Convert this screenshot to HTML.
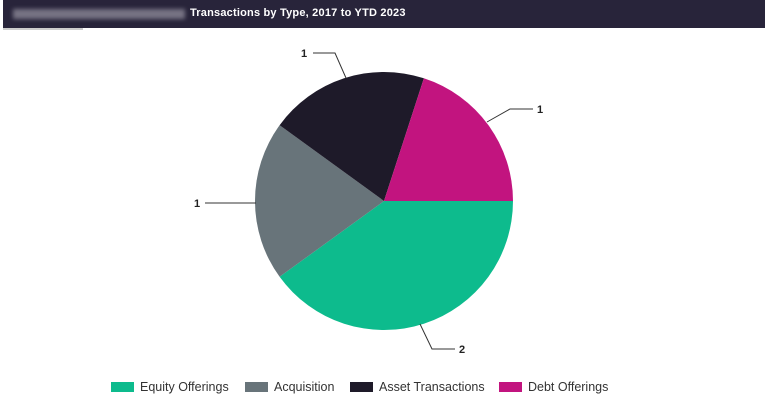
<!DOCTYPE html>
<html><head><style>
body{margin:0;background:#fff;width:768px;height:407px;overflow:hidden;font-family:"Liberation Sans",sans-serif}
.hdr{position:absolute;left:3px;top:0;width:762px;height:28px;background:#28243a}
.blur{position:absolute;left:10px;top:9px;width:172px;height:10px;background:#8a8796;filter:blur(2px);opacity:.8}
.t{position:absolute;left:187px;top:7px;color:#fff;font-size:11px;font-weight:bold;letter-spacing:0.2px}
.leg{position:absolute;top:380px;font-size:12.5px;color:#333;display:flex;align-items:center}
.sw{display:inline-block;width:23px;height:10px;margin-right:6px}
</style></head><body>
<div class="hdr"><div class="blur"></div><div class="t">Transactions by Type, 2017 to YTD 2023</div></div>
<div style="position:absolute;left:3px;top:28px;width:80px;height:2px;background:#ccc"></div>
<svg width="768" height="407" style="position:absolute;left:0;top:0">
<path d="M384,201 L513,201 A129,129 0 0 1 279.6,276.8 Z" fill="#0dbb8d"/>
<path d="M384,201 L279.6,276.8 A129,129 0 0 1 279.6,125.2 Z" fill="#68747a"/>
<path d="M384,201 L279.6,125.2 A129,129 0 0 1 423.9,78.3 Z" fill="#1e1a29"/>
<path d="M384,201 L423.9,78.3 A129,129 0 0 1 513,201 Z" fill="#c2147f"/>
<g stroke="#333" fill="none" stroke-width="1">
<polyline points="346,78 335,53 313,53"/>
<polyline points="487,122 510,109 533,109"/>
<polyline points="256,203 205,203"/>
<polyline points="420,324 432,349 455,349"/>
</g>
<g font-size="11" font-weight="bold" fill="#222" font-family="Liberation Sans">
<text x="301" y="57">1</text>
<text x="537" y="113">1</text>
<text x="194" y="207">1</text>
<text x="459" y="353">2</text>
</g>
</svg>
<div class="leg" style="left:111px"><span class="sw" style="background:#0dbb8d"></span>Equity Offerings</div>
<div class="leg" style="left:245px"><span class="sw" style="background:#68747a"></span>Acquisition</div>
<div class="leg" style="left:350px"><span class="sw" style="background:#1e1a29"></span>Asset Transactions</div>
<div class="leg" style="left:499px"><span class="sw" style="background:#c2147f"></span>Debt Offerings</div>
</body></html>
